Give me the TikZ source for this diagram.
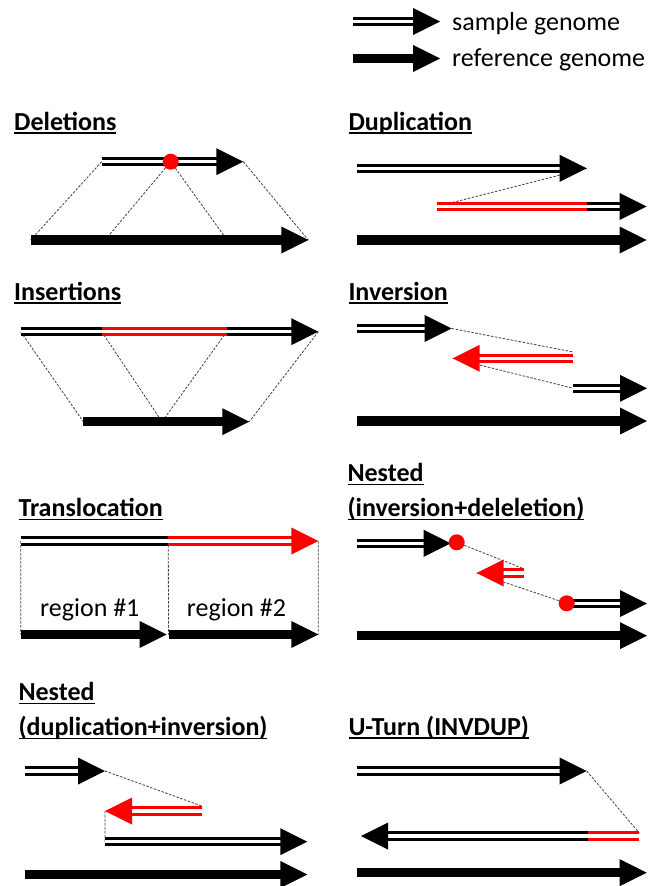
\documentclass[tikz,border=0pt]{standalone}
\usepackage{fontspec}
\setmainfont{Carlito}
\usetikzlibrary{calc}

\newsavebox{\ulbox}
\newcommand{\ulin}[1]{\sbox\ulbox{#1}\rlap{\rule[-3.8pt]{\wd\ulbox}{1.8pt}}\usebox\ulbox}
\newcommand{\gentip}[3]{\fill[#1] (#3) -- ($(#3)!27pt!(#2)+(0,13.5pt)$) -- ($(#3)!27pt!(#2)-(0,13.5pt)$) -- cycle;}
\newcommand{\sgen}[3][black]{\draw[sample=#1,shorten >=25pt] (#2) -- (#3); \gentip{#1}{#2}{#3}}
\newcommand{\rgen}[2]{\draw[ref,shorten >=25pt] (#1) -- (#2); \gentip{black}{#1}{#2}}

\begin{document}
\begin{tikzpicture}[x=1pt,y=-1pt,
  sample/.style={draw=#1,double=white,line width=3pt,double distance=3.5pt},sample/.default=black,
  ref/.style={draw=black,line width=9.5pt},
  link/.style={draw=black!75,line width=0.8pt,dash pattern=on 2.5pt off 1.5pt},
  dot/.style={circle,fill=red,inner sep=0pt,minimum size=16pt},
  txt/.style={anchor=base west,inner sep=0pt,font=\fontsize{26pt}{35pt}\selectfont},
  title/.style={txt,font=\fontsize{26pt}{35pt}\selectfont\bfseries,align=left}]
  \useasboundingbox (0,0) rectangle (648,886);

  \coordinate (ls1) at (353,21.5);  \coordinate (ls2) at (440,21.5);
  \coordinate (lr1) at (353,58.5);  \coordinate (lr2) at (440,58.5);
  \coordinate (ds1) at (101.7,161.7); \coordinate (ds2) at (243.3,161.7); \coordinate (dd) at (170.7,161.7);
  \coordinate (dr1) at (30.7,240);  \coordinate (dr2) at (308.3,240);
  \coordinate (dm1) at (105,240);   \coordinate (dm2) at (227,240);
  \coordinate (us1) at (356.7,168.3); \coordinate (us2) at (586.7,168.3);
  \coordinate (uu1) at (436.7,206.5); \coordinate (uu2) at (646.7,206.5); \coordinate (uu3) at (586.7,206.5);
  \coordinate (ur1) at (356.7,240); \coordinate (ur2) at (646.7,240);
  \coordinate (is1) at (20.7,331.7); \coordinate (is2) at (318.3,331.7);
  \coordinate (ia) at (101.7,331.7); \coordinate (ib) at (226.7,331.7);
  \coordinate (ir1) at (83.3,421.7); \coordinate (ir2) at (249.3,421.7); \coordinate (im) at (162,421.7);
  \coordinate (vs1) at (356.7,328.5); \coordinate (vs2) at (451.7,328.5);
  \coordinate (vi1) at (573.3,358.3); \coordinate (vi2) at (452.7,358.3); \coordinate (vi0) at (573.3,352);
  \coordinate (vt1) at (573.3,388.3); \coordinate (vt2) at (647,388.3);
  \coordinate (vr1) at (356.7,421); \coordinate (vr2) at (647,421);
  \coordinate (ts1) at (20.7,541);  \coordinate (ts2) at (318.3,541); \coordinate (tm) at (168.3,541);
  \coordinate (tr1) at (20.7,634.5); \coordinate (tr2) at (166.7,634.5);
  \coordinate (tr3) at (168.5,634.5); \coordinate (tr4) at (318.3,634.5);
  \coordinate (ns1) at (356.7,543.3); \coordinate (ns2) at (450.7,543.3); \coordinate (nd1) at (456.7,542.3);
  \coordinate (ni1) at (524.3,573); \coordinate (ni2) at (476.7,573); \coordinate (ni0) at (524.3,569);
  \coordinate (nd2) at (566.7,603.3);
  \coordinate (nt1) at (570,603.5); \coordinate (nt2) at (647,603.5);
  \coordinate (nr1) at (356.7,635.7); \coordinate (nr2) at (647,635.7);
  \coordinate (ms1) at (25,771);    \coordinate (ms2) at (105,771);
  \coordinate (mi1) at (201.7,811); \coordinate (mi2) at (105,811); \coordinate (mi0) at (201.7,806);
  \coordinate (mt1) at (105,841.7); \coordinate (mt2) at (307.3,841.7);
  \coordinate (mr1) at (25,874.5);  \coordinate (mr2) at (307.3,874.5);
  \coordinate (ws1) at (356.7,771); \coordinate (ws2) at (586.7,771);
  \coordinate (wt1) at (639.3,836); \coordinate (wt2) at (361,836); \coordinate (wm) at (588.3,836);
  \coordinate (w0) at (639.3,833);
  \coordinate (wr1) at (356.7,872.7); \coordinate (wr2) at (646.7,872.7);

  \draw[link] (ds1) -- (dr1) (dd) -- (dm1) (dd) -- (dm2) (ds2) -- (dr2);
  \draw[link] (us2) -- (uu1);
  \draw[link] (is1) -- (ir1) (ia) -- (im) (ib) -- (im) (is2) -- (ir2);
  \draw[link] (vs2) -- (vi0) (vi2) -- (vt1);
  \draw[link] (ts1) -- (tr1) (tm) -- (tr3) (ts2) -- (tr4);
  \draw[link] (nd1) -- (ni0) (ni2) -- (nd2);
  \draw[link] (ms2) -- (mi0) (mi2) -- (mt1);
  \draw[link] (ws2) -- (w0);

  \sgen{ls1}{ls2} \rgen{lr1}{lr2}
  \node[txt] (l1) at (452,30) {sample genome};
  \node[txt] (l2) at (452,66) {reference genome};

  \node[title] (t1) at (14,130) {\ulin{Deletions}};
  \sgen{ds1}{ds2} \rgen{dr1}{dr2}
  \node[dot] (d1) at (dd) {};

  \node[title] (t2) at (348.3,130) {\ulin{Duplication}};
  \sgen{us1}{us2}
  \sgen{uu1}{uu2} \draw[sample=red] (uu1) -- (uu3);
  \rgen{ur1}{ur2}

  \node[title] (t3) at (14,300) {\ulin{Insertions}};
  \sgen{is1}{is2} \draw[sample=red] (ia) -- (ib);
  \rgen{ir1}{ir2}

  \node[title] (t4) at (348.3,300) {\ulin{Inversion}};
  \sgen{vs1}{vs2} \sgen[red]{vi1}{vi2} \sgen{vt1}{vt2}
  \rgen{vr1}{vr2}

  \node[title] (t5) at (18.3,516.5) {\ulin{Translocation}};
  \draw[sample] (ts1) -- (tm); \sgen[red]{tm}{ts2}
  \rgen{tr1}{tr2} \rgen{tr3}{tr4}
  \node[txt] (r1) at (40,616) {region \#1};
  \node[txt] (r2) at (186.7,616) {region \#2};

  \node[title] (t6) at (347.3,516.5) {\ulin{Nested}\\\ulin{(inversion+deleletion)}};
  \sgen{ns1}{ns2} \sgen[red]{ni1}{ni2} \sgen{nt1}{nt2}
  \rgen{nr1}{nr2}
  \node[dot] (n1) at (nd1) {};
  \node[dot] (n2) at (nd2) {};

  \node[title] (t7) at (18.3,735.5) {\ulin{Nested}\\\ulin{(duplication+inversion)}};
  \sgen{ms1}{ms2} \sgen[red]{mi1}{mi2} \sgen{mt1}{mt2}
  \rgen{mr1}{mr2}

  \node[title] (t8) at (348.3,735) {\ulin{U-Turn (INVDUP)}};
  \sgen{ws1}{ws2}
  \sgen{wt1}{wt2} \draw[sample=red] (wt1) -- (wm);
  \rgen{wr1}{wr2}
\end{tikzpicture}
\end{document}
